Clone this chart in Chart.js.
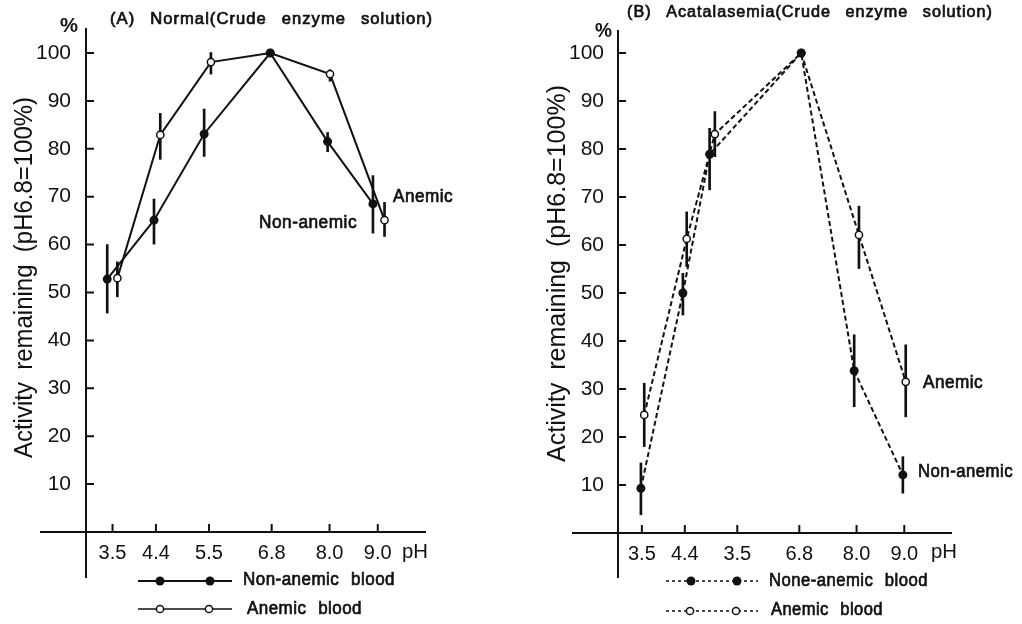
<!DOCTYPE html>
<html><head><meta charset="utf-8">
<script src="https://cdn.jsdelivr.net/npm/chart.js@4"></script>
<style>
html,body{margin:0;padding:0;background:#fff;}
#wrap{position:relative;width:1022px;height:624px;background:#fff;}
canvas{position:absolute;left:0;top:0;}
</style></head><body>
<div id="wrap"><canvas id="cA" width="1022" height="624"></canvas><canvas id="cB" width="1022" height="624"></canvas></div>
<script>
// ---------- data ----------
const yTickValues = [10, 20, 30, 40, 50, 60, 70, 80, 90, 100];
const yTickLabels = ['10', '20', '30', '40', '50', '60', '70', '80', '90', '100'];

// (A) Normal
const aTickValues = [3.5, 4.4, 5.5, 6.8, 8.0, 9.0];
const aTickLabels = ['3.5', '4.4', '5.5', '6.8', '8.0', '9.0'];
const aNonAnemicX = [3.39, 4.36, 5.40, 6.77, 7.96, 8.90];
const aNonAnemicY = [52.8, 65.1, 83.1, 100, 81.5, 68.5];
const aNonAnemicLo = [45.7, 60.1, 78.4, null, 79.4, 62.4];
const aNonAnemicHi = [60.0, 69.5, 88.3, null, 83.4, 74.4];
const aAnemicX = [3.60, 4.49, 5.54, 6.77, 8.01, 9.14];
const aAnemicY = [53.0, 82.9, 98.1, 100, 95.6, 65.1];
const aAnemicLo = [49.1, 77.8, 95.6, null, 94.1, 61.7];
const aAnemicHi = [56.4, 87.4, 100.1, null, 96.5, 68.8];

// (B) Acatalasemia
const bTickValues = [3.5, 4.4, 5.5, 6.8, 8.0, 9.0];
const bTickLabels = ['3.5', '4.4', '3.5', '6.8', '8.0', '9.0'];
const bNonAnemicX = [3.48, 4.36, 4.92, 6.84, 7.95, 8.97];
const bNonAnemicY = [9.3, 50.0, 78.9, 100, 33.8, 12.1];
const bNonAnemicLo = [3.8, 45.4, 71.5, null, 26.3, 8.3];
const bNonAnemicHi = [14.6, 54.1, 84.3, null, 41.3, 15.9];
const bAnemicX = [3.55, 4.44, 5.03, 6.84, 8.05, 9.03];
const bAnemicY = [24.6, 61.3, 83.1, 100, 62.1, 31.5];
const bAnemicLo = [18.0, 55.5, 78.4, null, 55.1, 24.2];
const bAnemicHi = [31.2, 66.9, 87.8, null, 68.1, 39.2];

// ---------- helpers ----------
const INK = '#111';
const FONT = '"Liberation Sans", Arial, Helvetica, sans-serif';

function series(xs, ys) { return xs.map((x, i) => ({ x: x, y: ys[i] })); }
function errBars(xs, lo, hi) {
  return xs.map((x, i) => lo[i] == null ? null : ({ x: x, y: [lo[i], hi[i]] })).filter(Boolean);
}

function fitText(ctx, t) {
  ctx.save();
  ctx.font = (t.bold ? 'bold ' : '') + t.size + 'px ' + FONT;
  ctx.fillStyle = INK;
  ctx.strokeStyle = INK;
  ctx.textAlign = 'left';
  ctx.textBaseline = t.rotate ? 'alphabetic' : 'middle';
  try { ctx.letterSpacing = (t.ls || 0) + 'px'; } catch (e) {}
  try { ctx.wordSpacing = (t.ws || 0) + 'px'; } catch (e) {}
  const w = ctx.measureText(t.text).width;
  const s = t.w ? t.w / w : 1;
  ctx.translate(t.x, t.y);
  if (t.rotate) ctx.rotate(-Math.PI / 2);
  ctx.scale(s, 1);
  const x0 = t.rotate ? -w / 2 : 0;
  ctx.fillText(t.text, x0, 0);
  if (t.heavy) { ctx.lineWidth = t.heavy; ctx.strokeText(t.text, x0, 0); }
  ctx.restore();
}

const decor = {
  id: 'decor',
  afterDraw(chart, args, o) {
    const ctx = chart.ctx, a = chart.chartArea, xs = chart.scales.x, ys = chart.scales.y;
    ctx.save();
    ctx.strokeStyle = INK; ctx.lineWidth = 2; ctx.lineCap = 'butt';
    ctx.beginPath();
    ctx.moveTo(a.left, a.top - o.yTop); ctx.lineTo(a.left, a.bottom + o.yBottom);
    ctx.moveTo(a.left - o.xLeft, a.bottom); ctx.lineTo(a.right, a.bottom);
    ys.ticks.forEach(t => { const p = ys.getPixelForValue(t.value); ctx.moveTo(a.left, p); ctx.lineTo(a.left + 8, p); });
    xs.ticks.forEach(t => { const p = xs.getPixelForValue(t.value); ctx.moveTo(p, a.bottom); ctx.lineTo(p, a.bottom - 8); });
    ctx.stroke();
    // legend
    o.legend.forEach(l => {
      ctx.save();
      ctx.lineWidth = l.lw;
      ctx.setLineDash(l.dash || []);
      ctx.beginPath(); ctx.moveTo(l.x1, l.y); ctx.lineTo(l.x2, l.y); ctx.stroke();
      ctx.setLineDash([]);
      l.dots.forEach(dx => {
        ctx.beginPath(); ctx.arc(dx, l.y, l.r, 0, Math.PI * 2);
        if (l.filled) { ctx.fillStyle = INK; ctx.fill(); }
        else { ctx.fillStyle = '#fff'; ctx.fill(); ctx.lineWidth = 1.5; ctx.stroke(); }
      });
      ctx.restore();
    });
    o.texts.forEach(t => fitText(ctx, t));
    ctx.restore();
  }
};

function makeChart(id, cfg) {
  const dashed = cfg.dashed ? [5, 3] : [];
  return new Chart(document.getElementById(id), {
    type: 'line',
    data: {
      datasets: [
        { type: 'line', data: series(cfg.naX, cfg.naY), borderColor: INK, borderWidth: 2, borderDash: dashed,
          pointRadius: 4.5, pointBackgroundColor: INK, pointBorderColor: INK, pointBorderWidth: 0,
          tension: 0, clip: false, order: 1 },
        { type: 'line', data: series(cfg.aX, cfg.aY), borderColor: INK, borderWidth: 2, borderDash: dashed,
          pointRadius: 3.6, pointBackgroundColor: '#fff', pointBorderColor: INK, pointBorderWidth: 1.5,
          tension: 0, clip: false, order: 2 },
        { type: 'bar', data: errBars(cfg.naX, cfg.naLo, cfg.naHi), backgroundColor: INK, barThickness: 2,
          grouped: false, clip: false, order: 4 },
        { type: 'bar', data: errBars(cfg.aX, cfg.aLo, cfg.aHi), backgroundColor: INK, barThickness: 2,
          grouped: false, clip: false, order: 3 }
      ]
    },
    options: {
      responsive: false, animation: false, devicePixelRatio: 1,
      layout: { padding: cfg.padding },
      scales: {
        x: {
          type: 'linear', min: cfg.xMin, max: 10, offset: false,
          afterFit: s => { s.height = 50; },
          afterBuildTicks: s => { s.ticks = cfg.tickValues.map(v => ({ value: v })); },
          ticks: { autoSkip: false, maxRotation: 0, padding: 1, color: INK,
                   font: { family: FONT, size: 20 },
                   callback: (v, i) => cfg.tickLabels[i] },
          grid: { display: false, offset: false }, border: { display: false }
        },
        y: {
          type: 'linear', min: 0, max: 100,
          afterFit: s => { s.width = 50; },
          afterBuildTicks: s => { s.ticks = yTickValues.map(v => ({ value: v })); },
          ticks: { padding: cfg.yPad, color: INK, font: { family: FONT, size: 21 },
                   callback: (v, i) => yTickLabels[i] },
          grid: { display: false }, border: { display: false }
        }
      },
      plugins: {
        legend: { display: false }, tooltip: { enabled: false },
        decor: cfg.decor
      }
    },
    plugins: [decor]
  });
}

makeChart('cA', {
  naX: aNonAnemicX, naY: aNonAnemicY, naLo: aNonAnemicLo, naHi: aNonAnemicHi,
  aX: aAnemicX, aY: aAnemicY, aLo: aAnemicLo, aHi: aAnemicHi,
  tickValues: aTickValues, tickLabels: aTickLabels, dashed: false,
  xMin: 2.95, yPad: 7,
  padding: { left: 36, right: 596, top: 53, bottom: 42 },
  decor: {
    yTop: 25, yBottom: 46, xLeft: 46,
    legend: [
      { y: 581, x1: 138, x2: 232, dots: [160, 210], r: 4.5, filled: true, lw: 2 },
      { y: 609, x1: 138, x2: 232, dots: [160, 209], r: 3.6, filled: false, lw: 1.5 }
    ],
    texts: [
      { text: '(A) Normal(Crude enzyme solution)', x: 110, y: 20, w: 323, size: 16, ls: 1, ws: 9, heavy: 0.7 },
      { text: '%', x: 60, y: 26, w: 18, size: 20, bold: true },
      { text: 'Activity remaining (pH6.8=100%)', x: 32, y: 277.5, w: 361, size: 25, ws: 6, rotate: true },
      { text: 'pH', x: 402, y: 552, w: 26, size: 20 },
      { text: 'Anemic', x: 393, y: 197.5, w: 60, size: 18, ls: 0.5, heavy: 0.7 },
      { text: 'Non-anemic', x: 259, y: 223.5, w: 98, size: 18, ls: 0.5, heavy: 0.7 },
      { text: 'Non-anemic blood', x: 243, y: 580, w: 152, size: 18, ws: 7, ls: 0.5, heavy: 0.7 },
      { text: 'Anemic blood', x: 247, y: 609.5, w: 115, size: 18, ws: 7, ls: 0.5, heavy: 0.7 }
    ]
  }
});

makeChart('cB', {
  naX: bNonAnemicX, naY: bNonAnemicY, naLo: bNonAnemicLo, naHi: bNonAnemicHi,
  aX: bAnemicX, aY: bAnemicY, aLo: bAnemicLo, aHi: bAnemicHi,
  tickValues: bTickValues, tickLabels: bTickLabels, dashed: true,
  xMin: 3.0, yPad: 6,
  padding: { left: 568, right: 70, top: 53, bottom: 41 },
  decor: {
    yTop: 23, yBottom: 45, xLeft: 46,
    legend: [
      { y: 581, x1: 666, x2: 758, dots: [691, 737], r: 4.5, filled: true, lw: 1.5, dash: [3, 3] },
      { y: 611, x1: 666, x2: 758, dots: [690, 736], r: 3.6, filled: false, lw: 1.5, dash: [3, 3] }
    ],
    texts: [
      { text: '(B) Acatalasemia(Crude enzyme solution)', x: 627, y: 12.5, w: 366, size: 16, ls: 1, ws: 9, heavy: 0.7 },
      { text: '%', x: 595, y: 31, w: 17, size: 20, bold: true },
      { text: 'Activity remaining (pH6.8=100%)', x: 565, y: 273.5, w: 377, size: 25, ws: 6, rotate: true },
      { text: 'pH', x: 931, y: 552, w: 26, size: 20 },
      { text: 'Anemic', x: 923, y: 383, w: 60, size: 18, ls: 0.5, heavy: 0.7 },
      { text: 'Non-anemic', x: 918, y: 472, w: 95, size: 18, ls: 0.5, heavy: 0.7 },
      { text: 'None-anemic blood', x: 769, y: 581.5, w: 159, size: 18, ws: 7, ls: 0.5, heavy: 0.7 },
      { text: 'Anemic blood', x: 771, y: 610.5, w: 112, size: 18, ws: 7, ls: 0.5, heavy: 0.7 }
    ]
  }
});
</script>
</body></html>
